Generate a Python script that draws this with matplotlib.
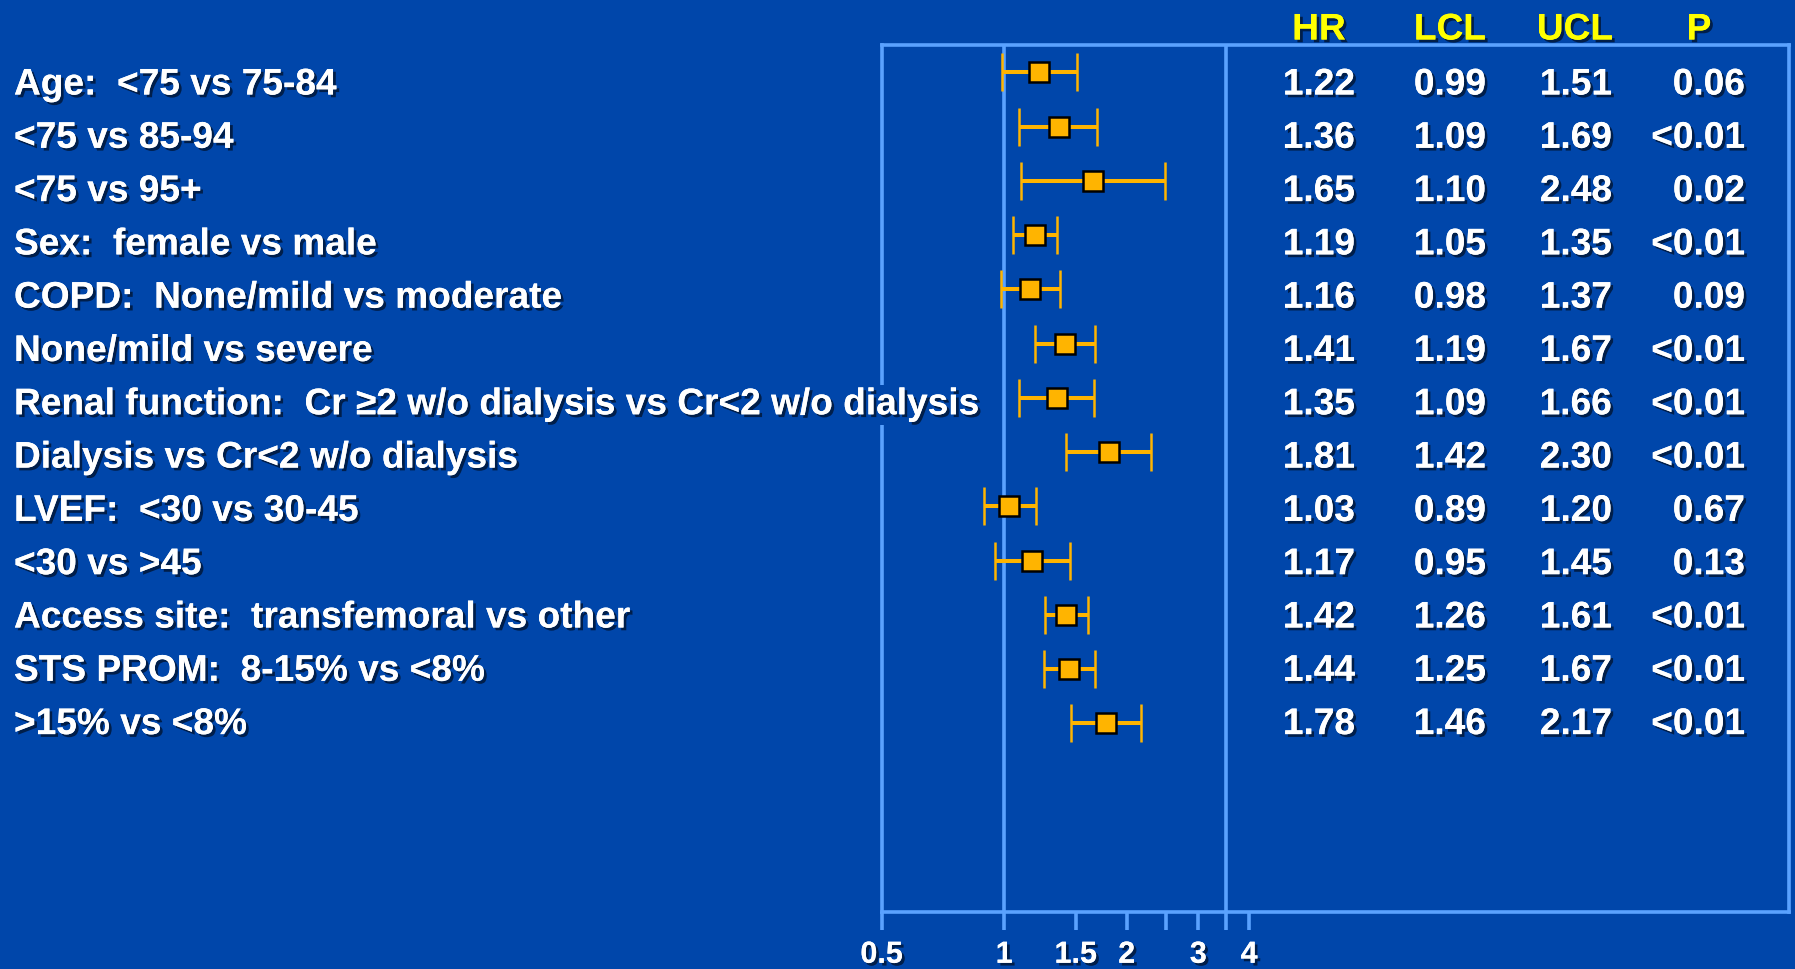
import numpy as np
import matplotlib.pyplot as plt
import matplotlib.patheffects as pe
from matplotlib.ticker import FixedLocator, NullLocator

labels = [
    "Age:  <75 vs 75-84",
    "<75 vs 85-94",
    "<75 vs 95+",
    "Sex:  female vs male",
    "COPD:  None/mild vs moderate",
    "None/mild vs severe",
    "Renal function:  Cr \u22652 w/o dialysis vs Cr<2 w/o dialysis",
    "Dialysis vs Cr<2 w/o dialysis",
    "LVEF:  <30 vs 30-45",
    "<30 vs >45",
    "Access site:  transfemoral vs other",
    "STS PROM:  8-15% vs <8%",
    ">15% vs <8%",
]
hr = [1.22, 1.36, 1.65, 1.19, 1.16, 1.41, 1.35, 1.81, 1.03, 1.17, 1.42, 1.44, 1.78]
lcl = [0.99, 1.09, 1.10, 1.05, 0.98, 1.19, 1.09, 1.42, 0.89, 0.95, 1.26, 1.25, 1.46]
ucl = [1.51, 1.69, 2.48, 1.35, 1.37, 1.67, 1.66, 2.30, 1.20, 1.45, 1.61, 1.67, 2.17]
pvals = ["0.06", "<0.01", "0.02", "<0.01", "0.09", "<0.01", "<0.01",
         "<0.01", "0.67", "0.13", "<0.01", "<0.01", "<0.01"]
columns = ["HR", "LCL", "UCL", "P"]
tick_vals = [0.5, 1, 1.5, 2, 2.5, 3, 3.5, 4]
tick_text = ["0.5", "1", "1.5", "2", "", "3", "", "4"]
ref_lines = [1, 3.5]

BG = "#0046aa"
EDGE = "#5aa2ff"
ORANGE = "#ffb400"
FONT = "Liberation Sans"
FS = 26.7

shadow = [pe.withSimplePatchShadow(offset=(2, -2), shadow_rgbFace="#001a40", alpha=0.9),
          pe.Normal()]

W, H = 1795, 969
fig = plt.figure(figsize=(W / 100, H / 100), dpi=100, facecolor=BG)

ax = fig.add_axes([881.7 / W, 1 - 912 / H, (1789 - 881.7) / W, (912 - 44.7) / H])
ax.set_facecolor(BG)
ax.set_xscale("log", base=2)
ax.set_xlim(0.5, 84.9)
ax.set_ylim(15.48, -0.51)

rows = np.arange(len(labels))
hr_a, lcl_a, ucl_a = np.array(hr), np.array(lcl), np.array(ucl)
ax.errorbar(hr_a, rows, xerr=[hr_a - lcl_a, ucl_a - hr_a], fmt="s",
            color=ORANGE, ecolor=ORANGE, elinewidth=2.9, capsize=13.5, capthick=2.8,
            markersize=15, markerfacecolor=ORANGE, markeredgecolor="black",
            markeredgewidth=1.8, zorder=3)

for v in ref_lines:
    ax.axvline(v, color=EDGE, lw=2.6, zorder=2)

for s in ax.spines.values():
    s.set_color(EDGE)
    s.set_linewidth(2.6)

ax.xaxis.set_major_locator(FixedLocator(tick_vals))
ax.xaxis.set_minor_locator(NullLocator())
ax.set_xticklabels(tick_text)
ax.tick_params(axis="x", colors=EDGE, length=13, width=2.6, direction="out",
               labelcolor="white", labelsize=22, pad=7)
for t in ax.get_xticklabels():
    t.set_fontfamily(FONT)
    t.set_fontweight("bold")
    t.set_path_effects(shadow)
ax.set_yticks([])

# row labels and the table of estimates
for i, lab in enumerate(labels):
    y = 1 - (85 + i * 53.3) / H
    kw = {}
    if i == 6:
        kw["bbox"] = dict(facecolor=BG, edgecolor="none", pad=2)
    fig.text(14 / W, y, lab, color="white", fontsize=FS, fontweight="bold",
             family=FONT, va="center", ha="left", path_effects=shadow, **kw)
    vals = [f"{hr[i]:.2f}", f"{lcl[i]:.2f}", f"{ucl[i]:.2f}", pvals[i]]
    for x, s in zip([1355, 1486, 1612, 1745], vals):
        fig.text(x / W, y, s, color="white", fontsize=FS, fontweight="bold",
                 family=FONT, va="center", ha="right", path_effects=shadow)

for x, c in zip([1319, 1450, 1575, 1699], columns):
    fig.text(x / W, 1 - 30 / H, c, color="#ffff00", fontsize=FS, fontweight="bold",
             family=FONT, va="center", ha="center", path_effects=shadow)

fig.savefig("out.png", dpi=100, facecolor=BG)
